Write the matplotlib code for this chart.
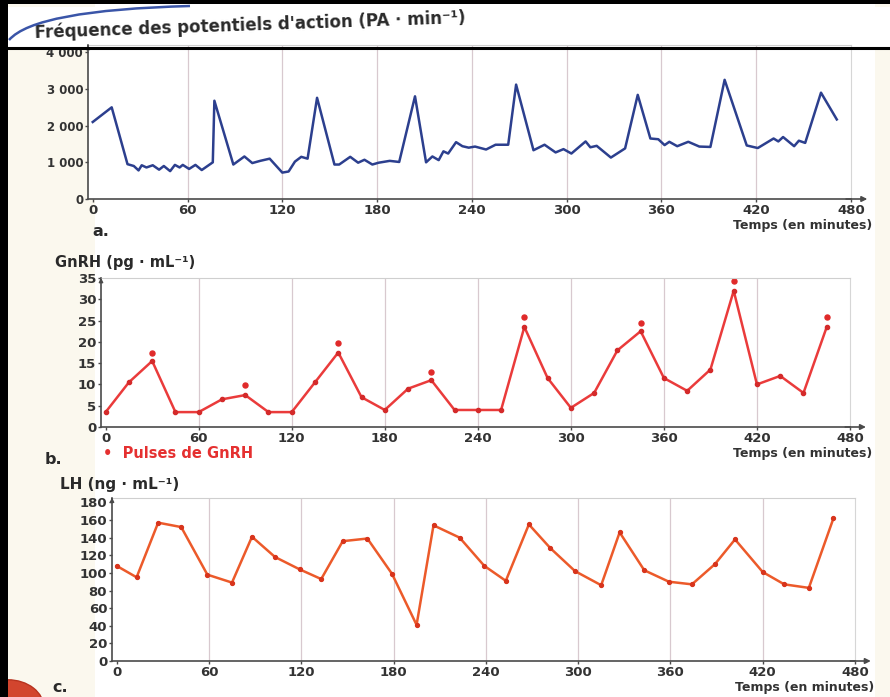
from __future__ import annotations

import matplotlib

matplotlib.use("Agg")
import matplotlib.pyplot as plt
from matplotlib.lines import Line2D
from matplotlib.patches import Circle, PathPatch, Rectangle
from matplotlib.path import Path

plt.rcParams["font.family"] = ["DejaVu Sans"]
plt.rcParams["font.weight"] = "bold"

# a. fréquence des potentiels d'action
TEMPS_PA = [0, 12, 22, 26, 29, 31, 34, 38, 42, 45, 49, 52, 55, 57, 61, 65, 69, 76, 77,
            89, 96, 101, 106, 112, 120, 124, 128, 132, 136, 142, 153, 156, 163, 168,
            172, 177, 181, 188, 194, 204, 211, 215, 219, 222, 225, 230, 234, 238, 242,
            249, 255, 263, 268, 279, 286, 293, 298, 303, 312, 315, 319, 328, 337, 345,
            353, 358, 362, 365, 370, 377, 384, 391, 400, 414, 421, 431, 434, 437, 444,
            447, 451, 461, 471]
FREQ_PA = [2100, 2500, 950, 900, 780, 920, 860, 920, 800, 900, 760, 930, 860, 930, 820,
           930, 790, 1000, 2680, 940, 1160, 980, 1040, 1100, 720, 750, 1020, 1150, 1100,
           2760, 940, 940, 1150, 990, 1070, 940, 990, 1040, 1010, 2800, 1000, 1160, 1060,
           1300, 1240, 1550, 1440, 1400, 1430, 1350, 1480, 1480, 3120, 1330, 1480, 1270,
           1360, 1240, 1570, 1410, 1450, 1130, 1380, 2840, 1650, 1630, 1470, 1560, 1440,
           1560, 1430, 1420, 3250, 1460, 1390, 1650, 1570, 1690, 1440, 1590, 1530, 2900,
           2170]

# b. GnRH
TEMPS_GNRH = [0, 15, 30, 45, 60, 75, 90, 105, 120, 135, 150, 165, 180, 195, 210, 225,
              240, 255, 270, 285, 300, 315, 330, 345, 360, 375, 390, 405, 420, 435, 450, 465]
GNRH = [3.5, 10.5, 15.5, 3.5, 3.5, 6.5, 7.5, 3.5, 3.5, 10.5, 17.5, 7, 4, 9, 11, 4,
        4, 4, 23.5, 11.5, 4.5, 8, 18, 22.5, 11.5, 8.5, 13.5, 32, 10, 12, 8, 23.5]
TEMPS_PULSES = [30, 90, 150, 210, 270, 345, 405, 465]
PULSES = [17.5, 9.8, 19.8, 13, 25.8, 24.5, 34.3, 25.8]

# c. LH
TEMPS_LH = [0, 13, 27, 42, 59, 75, 88, 103, 119, 133, 147, 163, 179, 195, 206, 223,
            239, 253, 268, 282, 298, 315, 327, 343, 359, 374, 389, 402, 420, 434, 450, 466]
LH = [108, 95, 157, 152, 98, 89, 141, 118, 104, 93, 136, 139, 99, 41, 154, 140,
      108, 91, 155, 128, 102, 86, 146, 103, 90, 87, 110, 138, 101, 87, 83, 162]

X_TICKS = [0, 60, 120, 180, 240, 300, 360, 420, 480]

W, H = 890, 697
AXIS_COLOR = "#4a4a4a"
GRID_COLOR = "#d8c9cf"
TEXT_COLOR = "#2a2a2a"


def fx(px):
    return px / W


def fy(py):
    return 1 - py / H


def _style_axes(ax, ylim, yticks, yticklabels, ysize):
    ax.set_xlim(-3, 480)
    ax.set_ylim(*ylim)
    ax.set_facecolor("white")
    ax.set_xticks(X_TICKS)
    ax.set_xticklabels([str(t) for t in X_TICKS], fontsize=9.5, color="#333333")
    ax.set_yticks(yticks)
    ax.set_yticklabels(yticklabels, fontsize=ysize, color="#333333")
    ax.tick_params(axis="both", length=2.5, width=1, color=AXIS_COLOR, pad=1)
    for t in X_TICKS[1:-1]:
        ax.axvline(t, color=GRID_COLOR, lw=0.9, zorder=0)
    ax.spines["left"].set_color(AXIS_COLOR)
    ax.spines["bottom"].set_color(AXIS_COLOR)
    ax.spines["left"].set_linewidth(1.2)
    ax.spines["bottom"].set_linewidth(1.2)
    ax.spines["top"].set_color("#cfcfcf")
    ax.spines["right"].set_color("#d6d6d6")
    ax.spines["top"].set_linewidth(0.8)
    ax.spines["right"].set_linewidth(0.8)
    # flèches des axes
    ax.annotate("", xy=(1.025, 0), xytext=(0.99, 0), xycoords="axes fraction",
                arrowprops=dict(arrowstyle="-|>", color=AXIS_COLOR, lw=1.2,
                                mutation_scale=8), annotation_clip=False)
    ax.annotate("", xy=(0.0, 1.02), xytext=(0.0, 0.97), xycoords="axes fraction",
                arrowprops=dict(arrowstyle="-|>", color=AXIS_COLOR, lw=1.0,
                                mutation_scale=6), annotation_clip=False)


def main() -> None:
    fig = plt.figure(figsize=(8.9, 6.97), dpi=100)
    fig.patch.set_facecolor("#fbf8ee")

    # fond blanc de la page
    fig.add_artist(Rectangle((fx(95), 0), fx(780), 1, transform=fig.transFigure,
                             facecolor="white", edgecolor="none", zorder=-5))

    # --- a ---
    ax_a = fig.add_axes([fx(88), fy(199), fx(851 - 88), (199 - 45) / H])
    ax_a.plot(TEMPS_PA, FREQ_PA, color="#2c3f8e", lw=1.8)
    _style_axes(ax_a, (0, 4200), [0, 1000, 2000, 3000, 4000],
                ["0", "1 000", "2 000", "3 000", "4 000"], 8.5)

    # --- b ---
    ax_b = fig.add_axes([fx(101), fy(427), fx(850 - 101), (427 - 278) / H])
    ax_b.plot(TEMPS_GNRH, GNRH, color="#ea3b3b", lw=1.8, marker="o", markersize=3,
              markerfacecolor="#d42a2a", markeredgecolor="#d42a2a")
    ax_b.plot(TEMPS_PULSES, PULSES, linestyle="none", marker="o", markersize=3.6,
              color="#e02a2a", clip_on=False)
    _style_axes(ax_b, (0, 35), [0, 5, 10, 15, 20, 25, 30, 35],
                ["0", "5", "10", "15", "20", "25", "30", "35"], 9.5)

    # --- c ---
    ax_c = fig.add_axes([fx(112), fy(661), fx(855 - 112), (661 - 498) / H])
    ax_c.plot(TEMPS_LH, LH, color="#ec5a2a", lw=1.8, marker="o", markersize=2.8,
              markerfacecolor="#d8341c", markeredgecolor="#d8341c")
    _style_axes(ax_c, (0, 185), [0, 20, 40, 60, 80, 100, 120, 140, 160, 180],
                ["0", "20", "40", "60", "80", "100", "120", "140", "160", "180"], 9.5)

    # textes
    fig.text(fx(35), fy(38), "Fréquence des potentiels d'action (PA · min⁻¹)",
             fontsize=12, color=TEXT_COLOR, rotation=2, rotation_mode="anchor",
             va="baseline", ha="left")
    fig.text(fx(872), fy(226), "Temps (en minutes)", fontsize=9, ha="right",
             va="center", color="#333333")
    fig.text(fx(92), fy(232), "a.", fontsize=11.5, ha="left", va="center", color=TEXT_COLOR)

    fig.text(fx(55), fy(262), "GnRH (pg · mL⁻¹)", fontsize=10.5, ha="left", va="center",
             color=TEXT_COLOR)
    fig.text(fx(872), fy(454), "Temps (en minutes)", fontsize=9, ha="right",
             va="center", color="#333333")
    fig.text(fx(45), fy(459), "b.", fontsize=11.5, ha="left", va="center", color=TEXT_COLOR)
    fig.text(fx(103), fy(453), "•  Pulses de GnRH", fontsize=10.5, ha="left", va="center",
             color="#e53030")

    fig.text(fx(60), fy(484), "LH (ng · mL⁻¹)", fontsize=11, ha="left", va="center",
             color=TEXT_COLOR)
    fig.text(fx(874), fy(688), "Temps (en minutes)", fontsize=9, ha="right",
             va="center", color="#333333")
    fig.text(fx(52), fy(687), "c.", fontsize=11.5, ha="left", va="center", color=TEXT_COLOR)

    # cadre noir de la photo
    fig.add_artist(Rectangle((0, 0), fx(8), 1, transform=fig.transFigure,
                             facecolor="black", edgecolor="none", zorder=10))
    fig.add_artist(Rectangle((0, fy(4)), 1, 4 / H, transform=fig.transFigure,
                             facecolor="black", edgecolor="none", zorder=10))
    fig.add_artist(Line2D([fx(8), 1], [fy(48), fy(48)], transform=fig.transFigure,
                          color="black", lw=2.2, zorder=10))
    fig.add_artist(Rectangle((fx(8), fy(47)), 1, 40 / H, transform=fig.transFigure,
                             facecolor="white", edgecolor="none", zorder=-4))
    # trait bleu décoratif en haut à gauche
    arc = Path([(fx(9), fy(40)), (fx(35), fy(10)), (fx(190), fy(6))],
               [Path.MOVETO, Path.CURVE3, Path.CURVE3])
    fig.add_artist(PathPatch(arc, transform=fig.transFigure, facecolor="none",
                             edgecolor="#3a55a8", lw=1.8, zorder=9))
    # coin rouge en bas à gauche
    fig.add_artist(Circle((fx(8), fy(708)), fx(36), transform=fig.transFigure,
                          facecolor="#d2452e", edgecolor="#b8331f", zorder=9))

    fig.savefig("out.png", dpi=100)
    plt.close(fig)


if __name__ == "__main__":
    main()
